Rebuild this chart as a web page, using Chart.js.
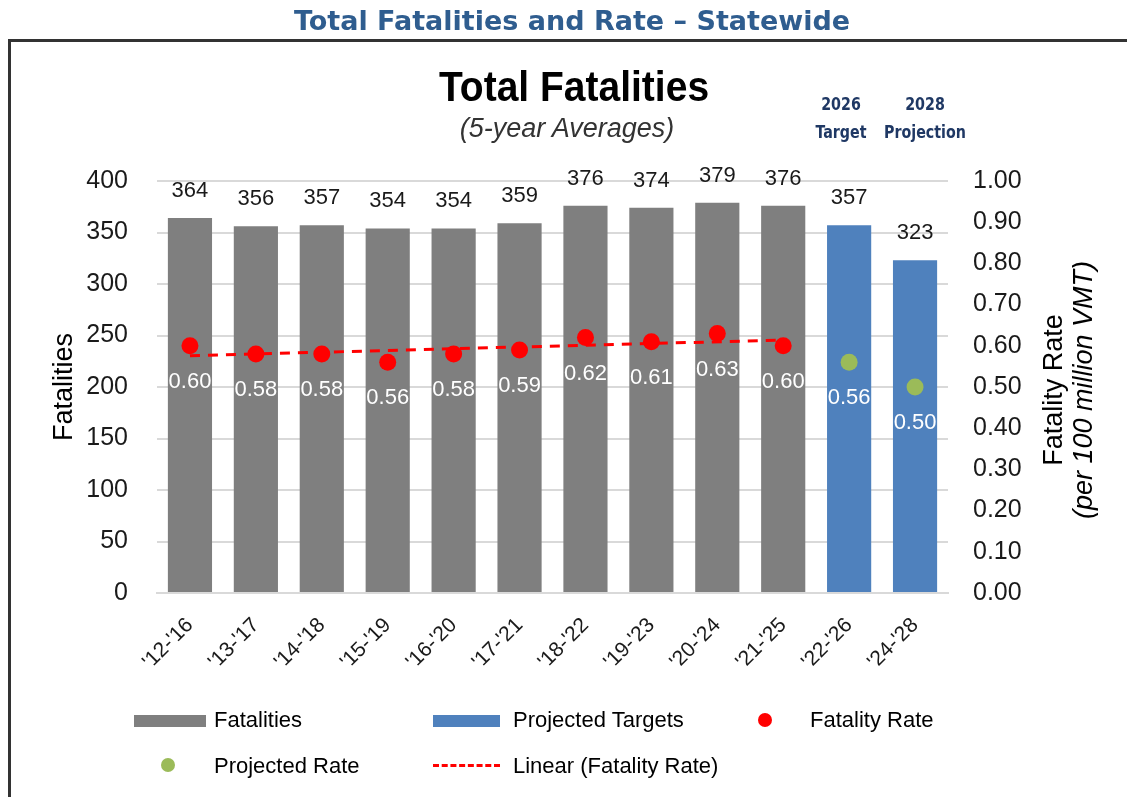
<!DOCTYPE html>
<html>
<head>
<meta charset="utf-8">
<script src="https://cdn.jsdelivr.net/npm/chart.js@4/dist/chart.umd.min.js"></script>
<style>
  html, body { margin:0; padding:0; background:#fff; }
  body { width:1127px; height:797px; position:relative; overflow:hidden; font-family:"Liberation Sans", Arial, sans-serif; }
  #wrap { position:absolute; left:0; top:0; width:1127px; height:797px; }
  canvas { position:absolute; left:0; top:0; }
  .abs { position:absolute; white-space:nowrap; }
  #header { left:572px; top:5px; transform:translateX(-50%); text-align:center; font-family:"DejaVu Sans", Verdana, sans-serif; font-weight:bold; font-size:27px; color:#2f5d8f; }
  #box { position:absolute; left:8px; top:39px; width:1130px; height:770px; border-top:3px solid #333; border-left:3px solid #333; box-sizing:border-box; }
  #title { left:574px; top:65px; transform:translateX(-50%) scaleY(1.08); font-weight:bold; font-size:39px; color:#000; }
  #subtitle { left:567px; top:113px; transform:translateX(-50%); font-style:italic; font-size:27px; color:#333; }
  .proj { font-family:"Liberation Sans Narrow","DejaVu Sans Condensed", sans-serif; font-weight:bold; font-size:18px; color:#1f3864; text-align:center; transform:translateX(-50%) scaleX(0.88); line-height:28px; }
  #rtitle { left:1068px; top:390px; transform:translate(-50%,-50%) rotate(-90deg); text-align:center; font-size:27px; line-height:30px; color:#000; }
  .leg { position:absolute; font-size:22px; color:#000; line-height:26px; }
  .sw { position:absolute; }
</style>
</head>
<body>
<div id="wrap">
  <canvas id="c" width="1127" height="797"></canvas>
  <div id="box"></div>
  <div id="header" class="abs">Total Fatalities and Rate – Statewide</div>
  <div id="title" class="abs">Total Fatalities</div>
  <div id="subtitle" class="abs">(5-year Averages)</div>
  <div class="abs proj" style="left:841px; top:90px;">2026<br>Target</div>
  <div class="abs proj" style="left:925px; top:90px;">2028<br>Projection</div>
  <div id="rtitle" class="abs">Fatality Rate<br><i>(per 100 million VMT)</i></div>

  <div class="sw" style="left:134px; top:715px; width:72px; height:12px; background:#7f7f7f;"></div>
  <div class="leg" style="left:214px; top:707px;">Fatalities</div>
  <div class="sw" style="left:433px; top:715px; width:67px; height:12px; background:#4f81bd;"></div>
  <div class="leg" style="left:513px; top:707px;">Projected Targets</div>
  <div class="sw" style="left:758px; top:713px; width:14px; height:14px; border-radius:50%; background:#ff0000;"></div>
  <div class="leg" style="left:810px; top:707px;">Fatality Rate</div>
  <div class="sw" style="left:161px; top:758px; width:14px; height:14px; border-radius:50%; background:#9bbb59;"></div>
  <div class="leg" style="left:214px; top:753px;">Projected Rate</div>
  <div class="sw" style="left:433px; top:764px; width:67px; height:0; border-top:3px dashed #ff0000;"></div>
  <div class="leg" style="left:513px; top:753px;">Linear (Fatality Rate)</div>
</div>
<script>
const categories = ["'12-'16","'13-'17","'14-'18","'15-'19","'16-'20","'17-'21","'18-'22","'19-'23","'20-'24","'21-'25","'22-'26","'24-'28"];
const fatalities = [364,356,357,354,354,359,376,374,379,376,null,null];
const projectedTargets = [null,null,null,null,null,null,null,null,null,null,357,323];
const fatalityRate = [0.60,0.58,0.58,0.56,0.58,0.59,0.62,0.61,0.63,0.60,null,null];
const projectedRate = [null,null,null,null,null,null,null,null,null,null,0.56,0.50];
const linearTrend = [0.576,null,null,null,null,null,null,null,null,0.614,null,null];
const leftTicks = [0,50,100,150,200,250,300,350,400];
const rightTicks = [0,0.1,0.2,0.3,0.4,0.5,0.6,0.7,0.8,0.9,1.0];

const labelPlugin = {
  id: 'valueLabels',
  afterDatasetsDraw(chart) {
    const ctx = chart.ctx;
    ctx.save();
    chart.data.datasets.forEach((ds, di) => {
      const meta = chart.getDatasetMeta(di);
      if (!ds.labelKind) return;
      meta.data.forEach((el, i) => {
        const v = ds.data[i];
        if (v === null || v === undefined) return;
        if (ds.labelKind === 'bar') {
          ctx.font = '22px "Liberation Sans", Arial, sans-serif';
          ctx.fillStyle = '#1a1a1a';
          ctx.textAlign = 'center';
          ctx.textBaseline = 'middle';
          ctx.fillText(String(v), el.x, el.y - 27);
        } else if (ds.labelKind === 'rate') {
          ctx.font = '22px "Liberation Sans", Arial, sans-serif';
          ctx.fillStyle = '#ffffff';
          ctx.textAlign = 'center';
          ctx.textBaseline = 'middle';
          ctx.fillText(v.toFixed(2), el.x, el.y + 36);
        }
      });
    });
    ctx.restore();
  }
};

new Chart(document.getElementById('c'), {
  type: 'bar',
  data: {
    labels: categories,
    datasets: [
      { label:'Fatality Rate', type:'line', data:fatalityRate, yAxisID:'y1', showLine:false,
        pointRadius:8.5, pointHoverRadius:8.5, pointBackgroundColor:'#ff0000', pointBorderWidth:0, borderColor:'#ff0000', order:1, labelKind:'rate' },
      { label:'Projected Rate', type:'line', data:projectedRate, yAxisID:'y1', showLine:false,
        pointRadius:8.5, pointHoverRadius:8.5, pointBackgroundColor:'#9bbb59', pointBorderWidth:0, borderColor:'#9bbb59', order:1, labelKind:'rate' },
      { label:'Linear (Fatality Rate)', type:'line', data:linearTrend, yAxisID:'y1', spanGaps:true,
        pointRadius:0, borderColor:'#ff0000', borderWidth:3, borderDash:[10,8], order:2 },
      { label:'Fatalities', data:fatalities, backgroundColor:'#7f7f7f', yAxisID:'y', grouped:false,
        barPercentage:0.67, categoryPercentage:1.0, order:3, labelKind:'bar' },
      { label:'Projected Targets', data:projectedTargets, backgroundColor:'#4f81bd', yAxisID:'y', grouped:false,
        barPercentage:0.67, categoryPercentage:1.0, order:3, labelKind:'bar' }
    ]
  },
  options: {
    responsive:false,
    animation:false,
    devicePixelRatio:1,
    layout:{ padding:{ left:40, right:0, top:181, bottom:0 } },
    plugins:{ legend:{ display:false }, title:{ display:false }, tooltip:{ enabled:false } },
    scales:{
      x:{
        grid:{ display:false, drawTicks:false },
        border:{ display:true, color:'#d9d9d9', width:2 },
        ticks:{ autoSkip:false, maxRotation:45, minRotation:45, padding:20, color:'#1a1a1a',
          font:{ size:21, family:'"Liberation Sans", Arial, sans-serif' } },
        afterFit(s){ s.height = 204; }
      },
      y:{
        position:'left', min:0, max:400,
        afterBuildTicks(s){ s.ticks = leftTicks.map(v => ({ value:v })); },
        grid:{ color:'#d9d9d9', lineWidth:2, drawTicks:false },
        border:{ display:false },
        ticks:{ padding:29, color:'#1a1a1a', font:{ size:25, family:'"Liberation Sans", Arial, sans-serif' } },
        title:{ display:true, text:'Fatalities', color:'#000', padding:{ top:8, bottom:0 },
          font:{ size:27, family:'"Liberation Sans", Arial, sans-serif' } },
        afterFit(s){ s.width = 117; }
      },
      y1:{
        position:'right', min:0, max:1,
        afterBuildTicks(s){ s.ticks = rightTicks.map(v => ({ value:v })); },
        grid:{ display:false, drawTicks:false },
        border:{ display:false },
        ticks:{ padding:25, color:'#1a1a1a', font:{ size:25, family:'"Liberation Sans", Arial, sans-serif' },
          callback:(v) => Number(v).toFixed(2) },
        afterFit(s){ s.width = 179; }
      }
    }
  },
  plugins:[labelPlugin]
});
</script>
</body>
</html>
